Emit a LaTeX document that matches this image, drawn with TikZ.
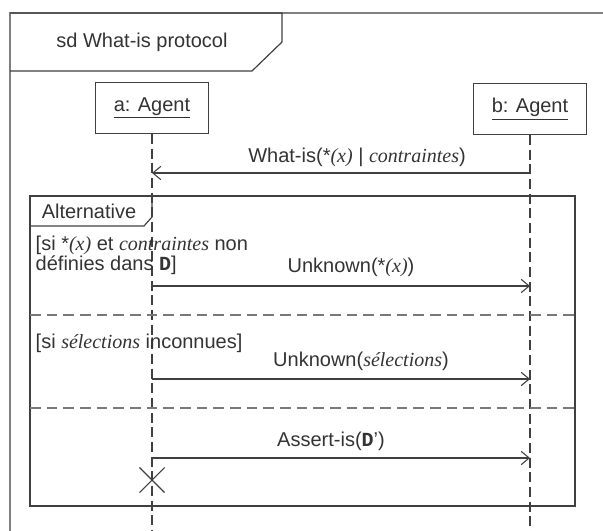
\documentclass[tikz,border=0pt]{standalone}
\usepackage{fontspec}
\setmainfont{Liberation Sans}
\newfontfamily\timesfont{Liberation Serif}
\newfontfamily\courfont{Liberation Mono}
\usetikzlibrary{arrows.meta, positioning, shapes.misc}

\newcommand{\vit}[1]{{\timesfont\itshape #1}}
\newcommand{\setD}{{\courfont\bfseries D}}
\definecolor{linegray}{gray}{0.25}
\definecolor{sepgray}{gray}{0.47}

\tikzset{
  agent/.style={draw=linegray, line width=0.8pt, minimum width=85pt, minimum height=38pt},
  lifeline/.style={draw=linegray, line width=0.8pt, dash pattern=on 7.5pt off 3.5pt},
  msg/.style={draw=linegray, line width=0.8pt, -{Straight Barb[length=6pt,width=10pt]}},
  frameline/.style={draw=linegray, line width=0.9pt},
  altsep/.style={draw=sepgray, line width=1.3pt, dash pattern=on 8pt off 4.5pt},
}

\begin{document}
\begin{tikzpicture}[x=0.75pt,y=-0.75pt, text=black!80,
    font=\fontsize{15}{13}\selectfont]
    \useasboundingbox (0,0) rectangle (603,531);
    % outer frame
    \draw[draw=gray, line width=2pt] (10,531) -- (10,13) -- (603,13);
    \draw[frameline] (10,13) -- (282,13) -- (282,42) -- (252,71) -- (10,71);
    \node (title) at (142,42) {sd What-is protocol};
    % lifelines
    \node[agent] (a) at (152,108) {\underline{a: Agent}};
    \node[agent] (b) at (530,109) {\underline{b: Agent}};
    \coordinate (bot) at (0,531);
    \draw[lifeline] (a) -- (a |- bot);
    \draw[lifeline] (b) -- (b |- bot);
    % alternative fragment
    \draw[frameline] (30,196) rectangle (575,506);
    \draw[frameline] (30,226) -- (144,226) -- (152,217) -- (152,196);
    \node (alt) at (89,211) {Alternative};
    \draw[altsep] (30,315) -- (575,315);
    \draw[altsep] (30,408) -- (575,408);
    \node[anchor=west, align=left] (g1) at (31,255)
      {[si *\vit{(x)} et \vit{contraintes} non\\définies dans \setD]};
    \node[anchor=west] (g2) at (31,343) {[si \vit{sélections} inconnues]};
    % messages
    \coordinate (y1) at (0,173);
    \coordinate (y2) at (0,286);
    \coordinate (y3) at (0,379);
    \coordinate (y4) at (0,458);
    \draw[msg] (b |- y1) -- (a |- y1);
    \node (m1) at (357,157) {What-is(*\vit{(x)} | \vit{contraintes})};
    \draw[msg] (a |- y2) -- (b |- y2);
    \node (m2) at (351,267) {Unknown(*\vit{(x)})};
    \draw[msg] (a |- y3) -- (b |- y3);
    \node (m3) at (361,361) {Unknown(\vit{sélections})};
    \draw[msg] (a |- y4) -- (b |- y4);
    \node (m4) at (331,441) {Assert-is(\setD')};
    % destruction
    \node[cross out, draw=linegray, line width=0.8pt, minimum size=18pt, inner sep=0pt] (stop) at (152,480) {};
\end{tikzpicture}
\end{document}
